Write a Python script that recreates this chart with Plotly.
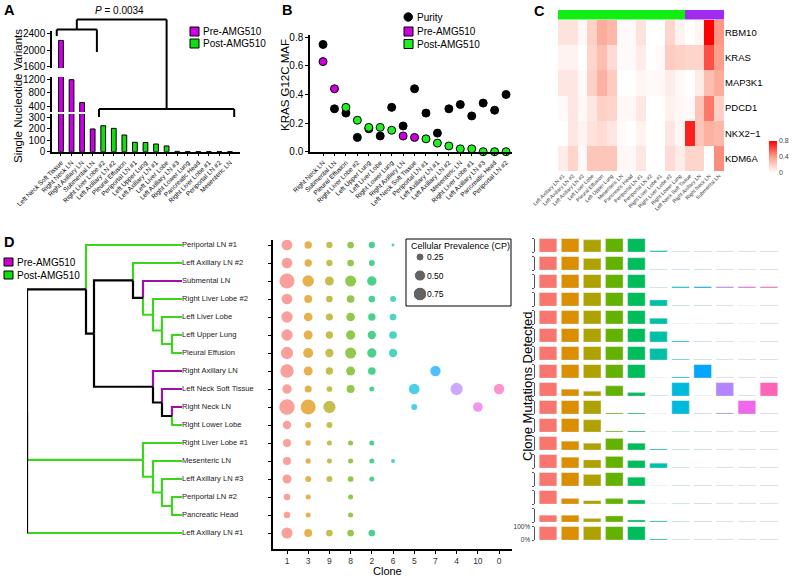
import plotly.graph_objects as go

W, H = 797, 578
FONT = "Liberation Sans, Arial, sans-serif"

# ---------------- panel A : SNV counts per site
snv_sites = ["Left Neck Soft Tissue", "Right Neck LN", "Right Axillary LN", "Submental LN",
             "Right Liver Lobe #2", "Left Axillary LN #2", "Pleural Effusion", "Periportal LN #1",
             "Left Upper Lung", "Left Axillary LN #1", "Left Liver Lobe", "Left Axillary LN #3",
             "Right Lower Lung", "Pancreatic Head", "Right Liver Lobe #1", "Periportal LN #2",
             "Mesenteric LN"]
snv_counts = [2230, 1180, 520, 198, 226, 203, 145, 82, 80, 67, 50, 3, 2, 2, 2, 2, 2]
snv_group = ["Pre"] * 4 + ["Post"] * 13

# ---------------- panel B : KRAS G12C MAF and purity
maf_sites = ["Right Neck LN", "Submental LN", "Pleural Effusion", "Right Liver Lobe #2",
             "Left Upper Lung", "Left Liver Lobe", "Right Lower Lung", "Right Axillary LN",
             "Left Neck Soft Tissue", "Periportal LN #1", "Left Axillary LN #1", "Left Axillary LN #2",
             "Mesenteric LN", "Right Liver Lobe #1", "Left Axillary LN #3", "Pancreatic Head",
             "Periportal LN #2"]
maf_values = [0.63, 0.44, 0.31, 0.22, 0.17, 0.17, 0.15, 0.11, 0.10, 0.09, 0.06, 0.04, 0.02, 0.02, 0.0, 0.0, 0.0]
maf_group = ["Pre", "Pre", "Post", "Post", "Post", "Post", "Post", "Pre", "Pre",
             "Post", "Post", "Post", "Post", "Post", "Post", "Post", "Post"]
purity = [0.75, 0.30, 0.27, 0.10, 0.16, 0.11, 0.31, 0.18, 0.44, 0.27, 0.13, 0.30, 0.33, 0.25, 0.34, 0.29, 0.40]

# ---------------- panel C : heatmap
hm_sites = ["Left Axillary LN #1", "Left Axillary LN #2", "Left Axillary LN #3", "Left Liver Lobe",
            "Pleural Effusion", "Left Upper Lung", "Mesenteric LN", "Pancreatic Head", "Periportal LN #1",
            "Periportal LN #2", "Right Liver Lobe #1", "Right Liver Lobe #2", "Right Lower Lung",
            "Left Neck Soft Tissue", "Right Axillary LN", "Right Neck LN", "Submental LN"]
hm_group = [0] * 13 + [1] * 4   # 0 = post, 1 = pre
hm_genes = ["RBM10", "KRAS", "MAP3K1", "PDCD1", "NKX2−1", "KDM6A"]
hm_values = [
    [0.12, 0.12, 0.03, 0.20, 0.35, 0.30, 0.02, 0.02, 0.12, 0.00, 0.00, 0.18, 0.05, 0.00, 0.04, 0.80, 0.42],
    [0.05, 0.05, 0.00, 0.18, 0.28, 0.15, 0.02, 0.02, 0.08, 0.00, 0.02, 0.22, 0.20, 0.18, 0.18, 0.60, 0.40],
    [0.10, 0.10, 0.02, 0.20, 0.33, 0.22, 0.00, 0.00, 0.04, 0.02, 0.03, 0.08, 0.03, 0.00, 0.08, 0.28, 0.35],
    [0.02, 0.10, 0.03, 0.10, 0.20, 0.18, 0.03, 0.03, 0.10, 0.00, 0.00, 0.06, 0.03, 0.02, 0.25, 0.50, 0.20],
    [0.00, 0.10, 0.05, 0.12, 0.15, 0.10, 0.02, 0.00, 0.05, 0.00, 0.00, 0.10, 0.04, 0.72, 0.25, 0.33, 0.30],
    [0.08, 0.18, 0.03, 0.24, 0.24, 0.24, 0.03, 0.03, 0.10, 0.00, 0.00, 0.15, 0.08, 0.18, 0.18, 0.00, 0.45],
]

# ---------------- panel D : tree, clone prevalence, clone mutations
leaves = ["Periportal LN #1", "Left Axillary LN #2", "Submental LN", "Right Liver Lobe #2",
          "Left Liver Lobe", "Left Upper Lung", "Pleural Effusion", "Right Axillary LN",
          "Left Neck Soft Tissue", "Right Neck LN", "Right Lower Lobe", "Right Liver Lobe #1",
          "Mesenteric LN", "Left Axillary LN #3", "Periportal LN #2", "Pancreatic Head",
          "Left Axillary LN #1"]
clones = ["1", "3", "9", "8", "2", "6", "5", "7", "4", "10", "0"]
clone_colors = ["#F8766D", "#DB8E00", "#AEA200", "#64B200", "#00BD5C", "#00C1A7",
                "#00BADE", "#00A6FF", "#B385FF", "#EF67EB", "#FF63B6"]
cp = [
    [0.46, 0.21, 0.15, 0.17, 0.15, 0.02, 0, 0, 0, 0, 0],
    [0.46, 0.21, 0.15, 0.17, 0.13, 0, 0, 0, 0, 0, 0],
    [0.92, 0.53, 0.32, 0.49, 0.36, 0, 0, 0, 0, 0, 0],
    [0.46, 0.25, 0.17, 0.23, 0.17, 0.13, 0, 0, 0, 0, 0],
    [0.52, 0.30, 0.19, 0.30, 0.21, 0.17, 0, 0, 0, 0, 0],
    [0.52, 0.32, 0.21, 0.34, 0.27, 0.23, 0, 0, 0, 0, 0],
    [0.61, 0.40, 0.27, 0.49, 0.34, 0.27, 0, 0, 0, 0, 0],
    [0.72, 0.32, 0.21, 0.32, 0.23, 0, 0, 0.43, 0, 0, 0],
    [0.34, 0.19, 0.12, 0.25, 0.09, 0, 0.46, 0, 0.61, 0, 0.43],
    [0.96, 0.92, 0.61, 0, 0, 0, 0.13, 0, 0, 0.37, 0],
    [0.27, 0.13, 0.13, 0, 0, 0, 0, 0, 0, 0, 0],
    [0.25, 0.10, 0.09, 0.09, 0.09, 0, 0, 0, 0, 0, 0],
    [0.25, 0.10, 0.09, 0.09, 0.09, 0.05, 0, 0, 0, 0, 0],
    [0.32, 0.13, 0.13, 0.12, 0.09, 0, 0, 0, 0, 0, 0],
    [0.16, 0.09, 0, 0.09, 0, 0, 0, 0, 0, 0, 0],
    [0.16, 0.09, 0, 0.09, 0, 0, 0, 0, 0, 0, 0],
    [0.49, 0.25, 0.17, 0.17, 0.17, 0, 0, 0, 0, 0, 0],
]
f = 0.05  # barely detected
detected = [
    [1, 1, 0.9, 1, 1, 0.1, f, f, f, f, f],
    [1, 1, 0.85, 1, 0.9, f, f, f, f, f, f],
    [1, 1, 1, 1, 1, f, 0.1, 0.1, 0.1, 0.1, 0.1],
    [1, 1, 1, 1, 1, 0.45, f, f, f, 0, f],
    [1, 1, 1, 1, 1, 0.42, 0, 0, f, 0, f],
    [1, 1, 1, 1, 1, 0.78, 0.08, f, f, 0, f],
    [1, 1, 1, 1, 1, 0.85, 0.06, f, f, f, f],
    [1, 1, 1, 1, 1, 0, 0.08, 1, f, f, f],
    [1, 0.5, 0.35, 0.75, 0.25, f, 1, 0, 1, f, 1],
    [1, 1, 1, 0.08, 0.08, 0, 1, f, 0.08, 1, f],
    [1, 1, 0.9, 0.08, 0.08, 0, f, f, f, f, f],
    [1, 0.65, 0.5, 0.85, 0.5, 0.08, f, f, f, f, f],
    [1, 0.8, 0.6, 0.85, 0.55, 0.35, f, 0, f, f, f],
    [1, 1, 0.85, 1, 0.65, 0, f, f, f, f, f],
    [1, 0.4, 0.25, 0.4, 0.3, 0, f, f, f, f, f],
    [0.5, 0.5, 0.25, 0.45, 0.15, 0.08, f, f, f, f, f],
    [1, 1, 1, 1, 1, 0.08, f, f, f, f, f],
]

K, G, M = "black", "#3CD41C", "#A010A8"
# (parent, child, horizontal colour, vertical colour)
tree_edges = [
    ("root", "n1", K, K), ("n1", "Periportal LN #1", G, G), ("n1", "n2", K, K),
    ("n2", "n3", K, K), ("n2", "n8", K, K),
    ("n3", "Left Axillary LN #2", G, G), ("n3", "n4", K, K),
    ("n4", "Submental LN", M, M), ("n4", "n5", G, G),
    ("n5", "Right Liver Lobe #2", G, G), ("n5", "n6", G, G),
    ("n6", "Left Liver Lobe", G, G), ("n6", "n7", G, G),
    ("n7", "Left Upper Lung", G, G), ("n7", "Pleural Effusion", G, G),
    ("n8", "Right Axillary LN", M, M), ("n8", "n9", K, K),
    ("n9", "Left Neck Soft Tissue", M, M), ("n9", "n10", K, K),
    ("n10", "Right Neck LN", M, M), ("n10", "Right Lower Lobe", G, G),
    ("root", "n11", G, K), ("n11", "Right Liver Lobe #1", G, G), ("n11", "n12", G, G),
    ("n12", "Mesenteric LN", G, G), ("n12", "n13", G, G),
    ("n13", "Left Axillary LN #3", G, G), ("n13", "n14", G, G),
    ("n14", "Periportal LN #2", G, G), ("n14", "Pancreatic Head", G, G),
    ("root", "Left Axillary LN #1", G, K),
]
node_depth = {"root": 0, "n1": 59, "n2": 67, "n3": 106, "n4": 116, "n5": 126, "n6": 135, "n7": 145,
              "n8": 126, "n9": 135, "n10": 145, "n11": 116, "n12": 126, "n13": 135, "n14": 145}
leaf_depth = 155

PRE_C, POST_C = "#CC00E6", "#11DD11"


def px(x):
    return x / W


def py(y):
    return 1 - y / H


def dx(a, b):
    return [a / W, b / W]


def dy(top, bottom):
    return [1 - bottom / H, 1 - top / H]


def note(text, x, y, size, xanchor="left", **kw):
    return dict(text=text, x=px(x), y=py(y), xref="paper", yref="paper", showarrow=False,
                xanchor=xanchor, yanchor="middle", font=dict(size=size, family=FONT, color="black"), **kw)


fig = go.Figure()
annotations, shapes = [], []
ax = dict(showgrid=False, zeroline=False, showline=True, linecolor="black", linewidth=1.5,
          ticks="outside", ticklen=3, tickwidth=1, tickcolor="black", automargin=False)
off = dict(showgrid=False, zeroline=False, automargin=False)
layout = dict(template="none", width=W, height=H, margin=dict(l=0, r=0, t=0, b=0, pad=0), showlegend=False,
              paper_bgcolor="white", plot_bgcolor="rgba(0,0,0,0)", font=dict(family=FONT, color="black"))

# ---------- A: broken-axis bar chart
snv_col = [PRE_C if g == "Pre" else POST_C for g in snv_group]
layout["xaxis"] = dict(ax, domain=dx(52, 240), anchor="y", type="category", range=[-0.85, 16.95],
                       tickangle=-45, tickfont=dict(size=6.5))
segments = [("yaxis", "y", [0, 328], dy(114, 151.7), [0, 100, 200, 300]),
            ("yaxis2", "y2", [247, 1258], dy(77, 112), [400, 800, 1200]),
            ("yaxis3", "y3", [1569, 2456], dy(31, 68), [1600, 2000, 2400])]
for key, ref, rng, dom, tv in segments:
    layout[key] = dict(ax, domain=dom, range=rng, anchor="x", tickvals=tv, tickfont=dict(size=10))
    fig.add_trace(go.Bar(x=snv_sites, y=snv_counts, xaxis="x", yaxis=ref, width=0.45,
                         marker=dict(color=snv_col, line=dict(color="black", width=1))))

pre_idx = [i for i, g in enumerate(snv_group) if g == "Pre"]
post_idx = [i for i, g in enumerate(snv_group) if g == "Post"]
b1 = (pre_idx[0] - 0.4, pre_idx[-1] + 0.4)
b2 = (post_idx[0] - 0.4, post_idx[-1] + 0.4)
m1, m2 = sum(b1) / 2, sum(b2) / 2
for x0, y0, x1, y1 in [(b1[0], 29.5, b1[1], 29.5), (b1[0], 29.5, b1[0], 36), (b1[1], 29.5, b1[1], 52),
                       (b2[0], 109, b2[1], 109), (b2[0], 109, b2[0], 117), (b2[1], 109, b2[1], 117),
                       (m1, 29.5, m1, 19.5), (m1, 19.5, m2, 19.5), (m2, 19.5, m2, 109)]:
    shapes.append(dict(type="line", xref="x", yref="paper", x0=x0, x1=x1, y0=py(y0), y1=py(y1),
                       line=dict(color="black", width=2)))
annotations.append(note("<i>P</i> = 0.0034", 120, 11, 10, xanchor="center"))
annotations.append(note("Single Nucleotide Variants", 18, 96, 11.5, xanchor="center", textangle=-90))
for (y0, y1), c, t in [((27, 36), PRE_C, "Pre-AMG510"), ((39, 48), POST_C, "Post-AMG510")]:
    shapes.append(dict(type="rect", xref="paper", yref="paper", x0=px(190), x1=px(199), y0=py(y1), y1=py(y0),
                       fillcolor=c, line=dict(color="black", width=1)))
    annotations.append(note(t, 201, (y0 + y1) / 2, 10))

# ---------- B: MAF dot plot
layout["xaxis2"] = dict(ax, domain=dx(310, 512), anchor="y4", type="category", range=[-1.14, 16.52],
                        tickangle=-45, tickfont=dict(size=6.5))
layout["yaxis4"] = dict(ax, domain=dy(35, 151.7), anchor="x2", range=[0, 0.816],
                        tickvals=[0, 0.2, 0.4, 0.6, 0.8], tickformat=".1f", tickfont=dict(size=10))
fig.add_trace(go.Scatter(x=maf_sites, y=purity, mode="markers", xaxis="x2", yaxis="y4", cliponaxis=False,
                         marker=dict(size=8, color="black", line=dict(color="black", width=1))))
fig.add_trace(go.Scatter(x=maf_sites, y=maf_values, mode="markers", xaxis="x2", yaxis="y4", cliponaxis=False,
                         marker=dict(size=8, color=["#CC00DD" if g == "Pre" else "#22EE22" for g in maf_group],
                                     line=dict(color="black", width=1))))
annotations.append(note("KRAS G12C MAF", 285, 85, 11.5, xanchor="center", textangle=-90))
shapes.append(dict(type="circle", xref="paper", yref="paper", x0=px(404), x1=px(412.5), y0=py(21.2), y1=py(12.8),
                   fillcolor="black", line=dict(color="black", width=1)))
annotations.append(note("Purity", 415, 17, 10))
for (y0, y1), c, t in [((27, 36), "#CC00DD", "Pre-AMG510"), ((39.5, 48.5), "#22EE22", "Post-AMG510")]:
    shapes.append(dict(type="rect", xref="paper", yref="paper", x0=px(404), x1=px(413), y0=py(y1), y1=py(y0),
                       fillcolor=c, line=dict(color="black", width=1)))
    annotations.append(note(t, 415, (y0 + y1) / 2, 10))

# ---------- C: heatmap
layout["xaxis3"] = dict(off, domain=dx(558, 724), anchor="y5", type="category", tickangle=-45,
                        tickfont=dict(size=5.2, color="#333"), ticks="")
layout["yaxis5"] = dict(off, domain=dy(20, 171), anchor="x3", type="category", autorange="reversed", side="right",
                        tickfont=dict(size=9.5), ticks="")
layout["yaxis6"] = dict(off, domain=dy(10, 19.5), anchor="x3", visible=False)
fig.add_trace(go.Heatmap(z=hm_values, x=hm_sites, y=hm_genes, xaxis="x3", yaxis="y5", zmin=0, zmax=0.8,
                         colorscale=[[0, "#FFFFFF"], [0.5, "#FCA08C"], [1, "#FF0000"]],
                         colorbar=dict(x=px(769), xanchor="left", xpad=0, y=py(157), yanchor="middle", ypad=0,
                                       len=32, lenmode="pixels", thickness=8, thicknessmode="pixels",
                                       tickvals=[0, 0.4, 0.8], ticktext=["0", "0.4", "0.8"],
                                       tickfont=dict(size=7, color="#444"), outlinewidth=0, ticks="")))
fig.add_trace(go.Heatmap(z=[hm_group], x=hm_sites, y=["group"], xaxis="x3", yaxis="y6", showscale=False,
                         zmin=0, zmax=1, colorscale=[[0, "#11EE11"], [0.5, "#11EE11"], [0.5, "#A02BEF"], [1, "#A02BEF"]]))

# ---------- D: phylogenetic tree
children = {}
for p, c, hc, vc in tree_edges:
    children.setdefault(p, []).append(c)
ypos = {name: i for i, name in enumerate(leaves)}
depth = dict(node_depth)
for leaf in leaves:
    depth[leaf] = leaf_depth


def place(n):
    if n not in ypos:
        ys = [place(c) for c in children[n]]
        ypos[n] = (min(ys) + max(ys)) / 2
    return ypos[n]


place("root")
segs = {}
for p, c, hc, vc in tree_edges:
    xp, yp, xc, yc = depth[p], ypos[p], depth[c], ypos[c]
    if hc == vc:
        pts = [(hc, [xp, xp, xc], [yp, yc, yc])]
    else:
        pts = [(vc, [xp, xp], [yp, yc]), (hc, [xp, xc], [yc, yc])]
    for col, xs, ys in pts:
        s = segs.setdefault(col, ([], []))
        s[0].extend(xs + [None])
        s[1].extend(ys + [None])
rows_range = [16.889, -0.278]
layout["xaxis5"] = dict(off, domain=dx(27, 182), anchor="y7", range=[0, 155], visible=False)
layout["yaxis7"] = dict(off, domain=dy(240, 549), anchor="x5", range=rows_range, visible=False)
for col in [G, M, K]:
    fig.add_trace(go.Scatter(x=segs[col][0], y=segs[col][1], mode="lines", xaxis="x5", yaxis="y7",
                             cliponaxis=False, line=dict(color=col, width=2.2)))
fig.add_trace(go.Scatter(x=[leaf_depth] * len(leaves), y=list(range(len(leaves))), mode="text", text=leaves,
                         textposition="middle right", xaxis="x5", yaxis="y7", cliponaxis=False,
                         textfont=dict(size=7.6, color="#222")))
for (y0, y1), c, t in [((258, 266), "#CC00CC", "Pre-AMG510"), ((271, 279), "#11DD11", "Post-AMG510")]:
    shapes.append(dict(type="rect", xref="paper", yref="paper", x0=px(4), x1=px(13), y0=py(y1), y1=py(y0),
                       fillcolor=c, line=dict(color="black", width=1)))
    annotations.append(note(t, 15, (y0 + y1) / 2, 10))


def cp_size(v):
    return (4 + 240 * v) ** 0.5


# ---------- D: clone prevalence dots
dx_, dy_, ds, dc = [], [], [], []
for i, row in enumerate(cp):
    for j, v in enumerate(row):
        if v > 0:
            dx_.append(clones[j])
            dy_.append(i)
            ds.append(cp_size(v))
            dc.append(clone_colors[j])
layout["xaxis6"] = dict(ax, domain=dx(273, 512), anchor="y8", type="category", categoryorder="array",
                        categoryarray=clones, range=[-0.66, 10.61], tickfont=dict(size=8.5, color="#333"))
layout["yaxis8"] = dict(ax, domain=dy(240, 549), anchor="x6", range=rows_range,
                        tickvals=list(range(len(leaves))), showticklabels=False)
fig.add_trace(go.Scatter(x=dx_, y=dy_, mode="markers", xaxis="x6", yaxis="y8",
                         marker=dict(size=ds, color=dc, line=dict(width=0))))
annotations.append(note("Clone", 387, 571, 11, xanchor="center"))

# CP size legend
cp_levels = [0.25, 0.50, 0.75]
shapes.append(dict(type="rect", xref="paper", yref="paper", x0=px(406), x1=px(511), y0=py(306), y1=py(239),
                   line=dict(color="black", width=1), fillcolor="white", layer="below"))
annotations.append(note("Cellular Prevalence (CP)", 409, 246, 9))
layout["xaxis7"] = dict(off, domain=dx(414, 426), anchor="y9", range=[-1, 1], visible=False)
layout["yaxis9"] = dict(off, domain=dy(250, 302), anchor="x7", range=[0.858, 0.155], side="right",
                        tickvals=cp_levels, ticktext=["%.2f" % v for v in cp_levels], ticks="",
                        showline=False, tickfont=dict(size=8.5))
fig.add_trace(go.Scatter(x=[0] * 3, y=cp_levels, mode="markers", xaxis="x7", yaxis="y9",
                         marker=dict(size=[cp_size(v) for v in cp_levels], color="#222")))

# ---------- D: clone mutations detected (one small bar chart per site)
layout["xaxis8"] = dict(off, domain=dx(535, 782), anchor="y10", type="category", categoryorder="array",
                        categoryarray=clones, range=[-0.59, 10.59], visible=False)


def rgba(hexc, a):
    h = hexc.lstrip("#")
    return "rgba(%d,%d,%d,%.2f)" % (int(h[0:2], 16), int(h[2:4], 16), int(h[4:6], 16), a)


for i, row in enumerate(detected):
    key = "yaxis%d" % (10 + i)
    bottom = 252 + 18 * i
    last = i == len(detected) - 1
    layout[key] = dict(off, domain=dy(bottom - 13.5, bottom), anchor="x8", range=[0, 1],
                       showline=True, linecolor="#555", linewidth=1, ticks="outside",
                       ticklen=2.5, tickcolor="#555", tickvals=[0, 1], ticktext=["0%", "100%"],
                       showticklabels=last, tickfont=dict(size=6.5, color="#333"))
    fig.add_trace(go.Bar(x=clones, y=row, xaxis="x8", yaxis="y%d" % (10 + i), width=0.79,
                         marker=dict(color=[rgba(clone_colors[j], 1 if v > f else 0.3) for j, v in enumerate(row)],
                                     line=dict(color="rgba(220,220,220,0.7)", width=0.6))))
annotations.append(note("Clone Mutations Detected", 527, 386, 13, xanchor="center", textangle=-90))

# panel letters
for t, x, y in [("A", 2, 10), ("B", 280, 10), ("C", 532, 11), ("D", 2, 242)]:
    annotations.append(note("<b>%s</b>" % t, x, y, 14.5))

layout["annotations"] = annotations
layout["shapes"] = shapes
fig.update_layout(**layout)
# page body has a default 8px margin; drop it so the figure sits at the window origin
fig.write_html("out.html", config={"displayModeBar": False},
               post_script="document.body.style.margin='0';")
